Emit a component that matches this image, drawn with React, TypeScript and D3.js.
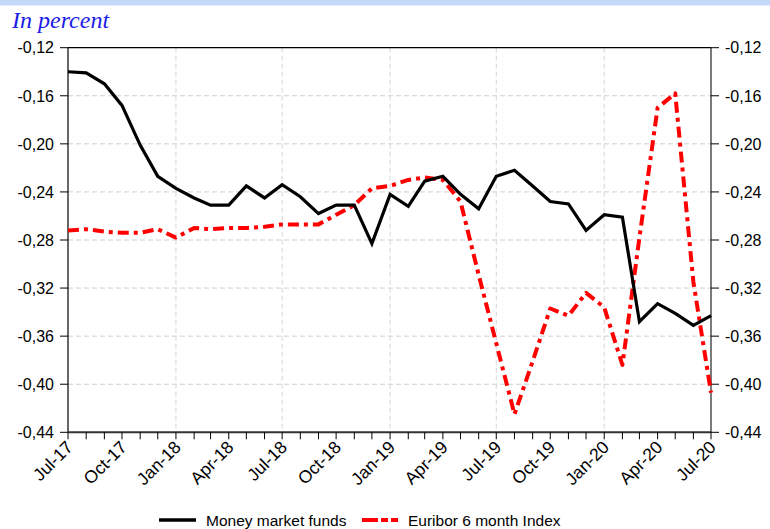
import React from "react";
import * as d3 from "d3";

const startYear = 2017;
const startMonth = 6; // July (0-based)
const monthCount = 37;

const quarterLabels = [
  "Jul-17", "Oct-17", "Jan-18", "Apr-18", "Jul-18", "Oct-18", "Jan-19",
  "Apr-19", "Jul-19", "Oct-19", "Jan-20", "Apr-20", "Jul-20",
];

const yTicks = [-0.44, -0.4, -0.36, -0.32, -0.28, -0.24, -0.2, -0.16, -0.12];

const moneyMarketFunds = [
  -0.140, -0.141, -0.150, -0.168, -0.201, -0.227, -0.237, -0.245, -0.251,
  -0.251, -0.235, -0.245, -0.234, -0.244, -0.258, -0.251, -0.251, -0.283,
  -0.242, -0.252, -0.231, -0.227, -0.242, -0.254, -0.227, -0.222, -0.235,
  -0.248, -0.250, -0.272, -0.259, -0.261, -0.348, -0.333, -0.341, -0.351,
  -0.343,
];

const euribor6m = [
  -0.272, -0.271, -0.273, -0.274, -0.274, -0.271, -0.278, -0.270, -0.271,
  -0.270, -0.270, -0.269, -0.267, -0.267, -0.267, -0.259, -0.251, -0.237,
  -0.235, -0.230, -0.228, -0.230, -0.248, -0.309, -0.366, -0.425, -0.381,
  -0.337, -0.343, -0.324, -0.336, -0.384, -0.278, -0.170, -0.158, -0.315,
  -0.407,
];

const legendLabels = ["Money market funds", "Euribor 6 month Index"];
const titleText = "In percent";

const W = 770;
const H = 529;
const left = 68;
const right = 711;
const top = 47.7;
const bottom = 432.3;

const dates = d3.range(monthCount).map((i) => new Date(startYear, startMonth + i, 1));

const locale = d3.formatLocale({
  decimal: ",",
  thousands: ".",
  grouping: [3],
  currency: ["", "€"],
  minus: "-",
});
const fmt = locale.format(".2f");

export default function App() {
  const x = d3.scaleTime().domain([dates[0], dates[monthCount - 1]]).range([left, right]);
  const y = d3.scaleLinear().domain([-0.44, -0.12]).range([bottom, top]);

  const line = d3
    .line<number>()
    .x((_, i) => x(dates[i]))
    .y((d) => y(d));

  const quarterDates = dates.filter((_, i) => i % 3 === 0);
  const gridDates = dates.filter((_, i) => i % 6 === 0 && i > 0 && i < monthCount - 1);

  const tickFont = "'Liberation Sans', Arial, sans-serif";

  return (
    <div style={{ position: "absolute", left: 0, top: 0 }}>
      <svg width={W} height={H} style={{ display: "block", background: "#fff" }}>
        <rect x={0} y={0} width={W} height={5.5} fill="#c3d9f7" />
        <text
          x={12}
          y={28}
          fill="#1c1ce6"
          fontFamily="'Liberation Serif', 'Times New Roman', serif"
          fontStyle="italic"
          fontSize={24}
        >
          {titleText}
        </text>

        {/* horizontal grid */}
        {yTicks
          .filter((t) => t > -0.44 + 1e-9 && t < -0.12 - 1e-9)
          .map((t) => (
            <line
              key={"hg" + t}
              x1={left}
              x2={right}
              y1={y(t)}
              y2={y(t)}
              stroke="#cfcfcf"
              strokeWidth={1}
              strokeDasharray="5,3"
            />
          ))}
        {/* vertical grid */}
        {gridDates.map((d, i) => (
          <line
            key={"vg" + i}
            x1={x(d)}
            x2={x(d)}
            y1={top}
            y2={bottom}
            stroke="#d6d6d6"
            strokeWidth={1}
            strokeDasharray="5,3"
          />
        ))}

        {/* frame */}
        <line x1={left} x2={right} y1={top} y2={top} stroke="#000" strokeWidth={1.2} />
        <line x1={left} x2={left} y1={top} y2={bottom} stroke="#000" strokeWidth={1.2} />
        <line x1={right} x2={right} y1={top} y2={bottom} stroke="#222" strokeWidth={1.2} />

        {/* y ticks left and right */}
        {yTicks.map((t) => (
          <g key={"yt" + t}>
            <line x1={left - 8} x2={left} y1={y(t)} y2={y(t)} stroke="#000" strokeWidth={1} />
            <text
              x={54}
              y={y(t)}
              dy="0.36em"
              textAnchor="end"
              fontFamily={tickFont}
              fontSize={16}
              fill="#000"
            >
              {fmt(t)}
            </text>
            <line x1={right} x2={right + 8} y1={y(t)} y2={y(t)} stroke="#000" strokeWidth={1} />
            <text
              x={725}
              y={y(t)}
              dy="0.36em"
              textAnchor="start"
              fontFamily={tickFont}
              fontSize={16}
              fill="#000"
            >
              {fmt(t)}
            </text>
          </g>
        ))}

        {/* series */}
        <path
          d={line(euribor6m) || ""}
          fill="none"
          stroke="#ff0000"
          strokeWidth={4}
          strokeDasharray="11,5,4,5"
          strokeLinejoin="round"
        />
        <path
          d={line(moneyMarketFunds) || ""}
          fill="none"
          stroke="#000"
          strokeWidth={3.2}
          strokeLinejoin="miter"
        />

        {/* bottom axis */}
        <line x1={left} x2={right} y1={bottom} y2={bottom} stroke="#333" strokeWidth={2} />
        {dates.map((d, i) => (
          <line
            key={"xt" + i}
            x1={x(d)}
            x2={x(d)}
            y1={bottom}
            y2={bottom + 7}
            stroke="#000"
            strokeWidth={1}
          />
        ))}
        {quarterDates.map((d, i) => (
          <text
            key={"xl" + i}
            transform={`translate(${x(d) + 6},${bottom + 16}) rotate(-45)`}
            textAnchor="end"
            fontFamily={tickFont}
            fontSize={17.5}
            fill="#000"
          >
            {quarterLabels[i]}
          </text>
        ))}

        {/* legend */}
        <line x1={159} x2={196} y1={520} y2={520} stroke="#000" strokeWidth={3.5} />
        <text x={206} y={525.5} fontFamily={tickFont} fontSize={15.5} fill="#000">
          {legendLabels[0]}
        </text>
        <line
          x1={362}
          x2={398}
          y1={520}
          y2={520}
          stroke="#ff0000"
          strokeWidth={3.8}
          strokeDasharray="16,3,7,3"
        />
        <text x={408} y={525.5} fontFamily={tickFont} fontSize={15.5} fill="#000">
          {legendLabels[1]}
        </text>
      </svg>
    </div>
  );
}
